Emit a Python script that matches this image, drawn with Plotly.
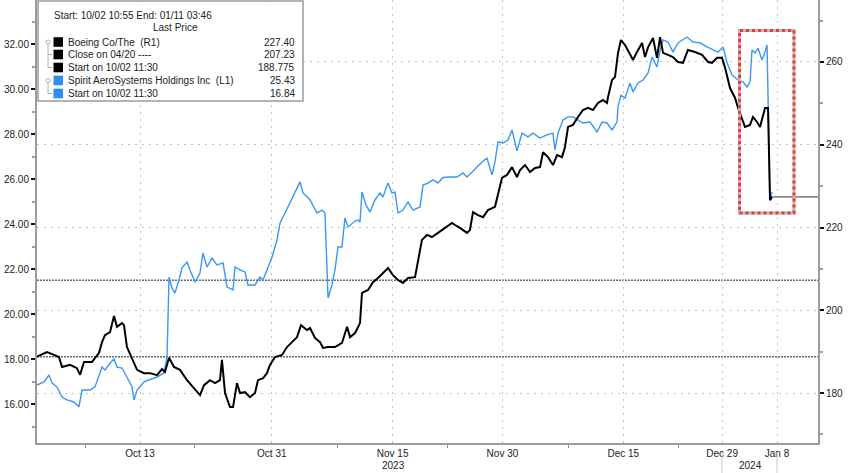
import plotly.graph_objects as go
import pandas as pd

# ---------------- data ----------------
holidays = ["2023-11-23", "2023-12-25", "2024-01-01"]
trading_days = pd.bdate_range("2023-10-02", "2024-01-11", freq="C", holidays=holidays)

tick_dates = ["2023-10-13", "2023-10-31", "2023-11-15", "2023-11-30",
              "2023-12-15", "2023-12-29", "2024-01-08"]
tick_labels = ["Oct 13", "Oct 31", "Nov 15", "Nov 30", "Dec 15", "Dec 29", "Jan 8"]
minor_dates = ["2023-10-06", "2023-10-20", "2023-11-08", "2023-11-22",
               "2023-12-08", "2023-12-22"]
year_labels = ["2023", "2024"]

# x = trading-session position since the start (10/02 10:55)
boeing_session = [0.00, 0.91, 1.55, 2.00, 2.28, 3.00, 3.64, 3.92, 4.28, 5.01, 5.65, 5.92, 6.19, 6.65,
                  7.01, 7.28, 7.74, 7.92, 8.19, 8.65, 9.11, 9.74, 10.29, 10.93, 11.38, 11.65, 12.02,
                  12.47, 13.02, 13.66, 14.29, 14.84, 15.21, 15.75, 16.21, 16.66, 16.84, 17.12, 17.57,
                  17.85, 18.21, 18.48, 18.94, 19.39, 19.85, 20.12, 20.58, 20.94, 21.21, 21.67, 22.31,
                  22.76, 23.22, 23.67, 24.04, 24.58, 24.86, 25.31, 25.77, 26.04, 26.50, 27.13, 27.77,
                  28.23, 28.50, 28.96, 29.41, 29.59, 30.14, 30.59, 31.05, 31.50, 31.96, 32.41, 32.87,
                  33.32, 33.78, 34.42, 34.69, 35.05, 35.51, 35.96, 36.51, 37.15, 37.79, 38.06, 38.51,
                  39.15, 39.42, 39.70, 40.15, 40.61, 41.06, 41.70, 41.97, 42.34, 42.79, 43.25, 43.70,
                  43.98, 44.43, 44.89, 45.34, 45.80, 46.07, 46.53, 46.98, 47.35, 47.80, 48.07, 48.35,
                  48.80, 49.26, 49.71, 50.17, 50.62, 51.08, 51.53, 51.90, 51.99, 52.35, 52.63, 52.90,
                  53.17, 53.54, 53.99, 54.27, 54.63, 55.09, 55.36, 55.64, 56.09, 56.45, 56.73, 57.00,
                  57.45, 57.91, 58.36, 58.82, 59.27, 59.91, 60.55, 61.10, 61.46, 61.92, 62.37, 62.65,
                  63.10, 63.56, 63.83, 64.20, 64.46, 64.92, 65.19, 65.56, 65.83, 66.29, 66.56, 66.74,
                  66.93]
boeing_price = [188.78, 189.9, 189.2, 188.7, 186.3, 186.8, 186.0, 184.4, 187.5, 187.5, 189.7, 192.3,
                194.0, 194.7, 198.6, 196.0, 196.9, 196.4, 191.1, 188.5, 185.6, 184.8, 184.8, 184.3,
                185.8, 185.1, 188.5, 186.3, 185.6, 183.1, 181.2, 179.5, 181.9, 183.1, 182.4, 183.1,
                188.0, 180.0, 176.6, 176.6, 182.4, 180.0, 180.2, 179.0, 180.0, 183.1, 183.6, 184.8,
                186.8, 188.7, 189.2, 191.1, 192.3, 193.5, 196.4, 195.2, 195.7, 193.3, 192.3, 190.9,
                191.1, 191.1, 192.1, 196.0, 193.5, 194.5, 196.9, 204.2, 204.9, 206.8, 207.8, 209.0,
                210.2, 208.5, 207.3, 206.6, 207.8, 208.0, 211.7, 217.0, 218.2, 217.7, 218.7, 219.9,
                221.1, 220.6, 219.9, 218.7, 219.4, 223.7, 223.0, 222.5, 224.2, 225.0, 228.3, 232.0,
                232.7, 234.6, 232.2, 233.9, 235.1, 233.4, 234.4, 234.6, 238.2, 237.0, 235.1, 237.5,
                237.0, 239.4, 244.3, 244.8, 246.7, 248.4, 248.9, 248.4, 250.1, 250.8, 250.1, 251.5,
                255.6, 256.4, 262.2, 265.3, 264.1, 261.7, 260.5, 262.4, 264.6, 261.2, 263.6, 265.8,
                261.0, 266.0, 262.2, 261.7, 261.2, 260.0, 259.8, 262.9, 262.4, 261.7, 260.0, 259.8,
                261.0, 261.0, 258.6, 253.7, 251.3, 248.9, 246.0, 244.3, 244.8, 246.7, 245.5, 244.3,
                248.9, 248.9, 226.6, 227.40]

spirit_session = [0.00, 0.64, 1.09, 1.37, 1.82, 2.28, 2.73, 3.37, 3.82, 4.10, 4.83, 5.28, 5.92, 6.19,
                  6.65, 7.01, 7.28, 7.74, 8.19, 8.65, 8.83, 9.11, 9.74, 10.29, 10.93, 11.56, 11.84,
                  12.02, 12.29, 12.56, 12.93, 13.20, 13.66, 13.93, 14.39, 14.84, 15.11, 15.48, 15.93,
                  16.39, 16.94, 17.30, 17.85, 18.03, 18.48, 18.94, 19.21, 19.85, 20.30, 20.58, 20.94,
                  21.40, 21.85, 22.13, 22.58, 23.04, 23.49, 23.95, 24.22, 24.86, 25.49, 25.95, 26.22,
                  26.40, 26.50, 26.86, 27.13, 27.41, 27.77, 28.04, 28.32, 28.96, 29.23, 29.41, 29.59,
                  29.95, 30.32, 30.77, 31.23, 31.50, 31.96, 32.32, 32.60, 32.87, 33.32, 33.78, 34.23,
                  34.87, 35.15, 35.60, 36.06, 36.51, 36.97, 37.60, 38.24, 38.79, 39.15, 39.61, 40.06,
                  40.52, 40.97, 41.43, 41.70, 41.97, 42.43, 42.89, 43.25, 43.70, 43.98, 44.16, 44.70,
                  45.16, 45.80, 46.44, 46.98, 47.16, 47.44, 47.89, 48.35, 48.80, 49.26, 49.71, 50.35,
                  50.99, 51.44, 51.90, 52.35, 52.81, 52.90, 53.17, 53.54, 53.99, 54.27, 54.72, 55.18,
                  55.64, 56.00, 56.45, 56.73, 57.00, 57.45, 57.91, 58.36, 58.82, 59.18, 59.73, 60.37,
                  61.00, 61.55, 62.01, 62.47, 62.83, 63.29, 63.83, 64.29, 64.65, 64.92, 65.10, 65.38,
                  65.65, 66.01, 66.29, 66.47, 66.74, 66.93]
spirit_price = [16.84, 16.98, 17.29, 16.93, 16.76, 16.31, 16.18, 16.09, 15.87, 16.62, 16.62, 16.76,
                17.64, 17.51, 17.82, 18.00, 17.64, 17.60, 17.20, 16.76, 16.18, 16.62, 16.98, 17.07,
                17.20, 17.38, 18.09, 21.64, 21.16, 20.93, 21.51, 22.05, 22.31, 21.96, 21.42, 21.82,
                22.71, 22.09, 22.49, 22.18, 22.27, 21.20, 21.07, 22.09, 21.96, 21.87, 21.29, 21.29,
                21.64, 21.51, 21.96, 22.53, 23.29, 24.05, 24.49, 24.93, 25.38, 25.87, 25.38, 25.07,
                24.49, 24.62, 24.49, 21.96, 20.71, 21.29, 21.96, 22.98, 22.98, 24.27, 23.87, 24.13,
                24.18, 24.09, 25.42, 24.85, 24.53, 25.07, 25.38, 25.20, 25.82, 25.38, 25.42, 24.49,
                24.62, 24.98, 24.62, 24.76, 25.73, 25.82, 25.96, 25.82, 26.07, 26.09, 26.09, 26.27,
                26.09, 26.31, 26.53, 26.76, 26.93, 26.18, 26.76, 27.65, 27.60, 27.73, 28.18, 27.25,
                27.73, 28.04, 27.87, 28.04, 27.82, 27.96, 28.04, 27.29, 28.04, 28.62, 28.76, 28.76,
                28.62, 28.49, 28.53, 28.09, 28.53, 28.49, 28.18, 28.53, 29.20, 29.73, 29.60, 30.27,
                29.87, 30.27, 30.40, 30.71, 31.42, 30.98, 31.73, 32.18, 32.09, 31.64, 32.05, 32.18,
                32.31, 32.09, 32.05, 31.87, 31.73, 31.64, 31.87, 31.16, 30.62, 30.40, 30.31, 30.09,
                30.31, 31.73, 31.60, 31.82, 31.29, 31.64, 31.96, 25.07, 25.43]

legend_names = ["Boeing Co/The\u00a0\u00a0(R1)", "Close on 04/20 ----", "Start on 10/02 11:30",
                "Spirit AeroSystems Holdings Inc\u00a0\u00a0(L1)", "Start on 10/02 11:30"]
legend_values = ["227.40", "207.23", "188.775", "25.43", "16.84"]
boeing_close_0420 = 207.23
boeing_start = 188.775

# ---------------- layout helpers ----------------
W, H = 848, 473
ML, MR, MT, MB = 37, 30, 0, 30
PW, PH = W - ML - MR, H - MT - MB
PX_PER_SESSION = 10.983
TICK_OFFSET = 0.38
X_MAX = PW / PX_PER_SESSION

day_index = {d.strftime("%Y-%m-%d"): i for i, d in enumerate(trading_days)}
tickvals = [day_index[d] + TICK_OFFSET for d in tick_dates]
minorvals = [day_index[d] + TICK_OFFSET for d in minor_dates]


def px2x(px):
    return (px - ML) / PW


def px2y(py):
    return 1 - (py - MT) / PH


BLACK = "#000000"
BLUE = "#3a97f3"
FONT = "Liberation Sans"
TXT = "#222222"
GRID = "#c4c4c4"
AXIS = "#9c9c9c"

fig = go.Figure()
fig.add_trace(go.Scatter(x=spirit_session, y=spirit_price, mode="lines", yaxis="y",
                         line=dict(color=BLUE, width=1.4), name="Spirit", showlegend=False,
                         hoverinfo="skip"))
fig.add_trace(go.Scatter(x=boeing_session, y=boeing_price, mode="lines", yaxis="y2",
                         line=dict(color=BLACK, width=2), name="Boeing", showlegend=False,
                         hoverinfo="skip"))

shapes = []
for v in (boeing_close_0420, boeing_start):
    shapes.append(dict(type="line", xref="paper", yref="y2", x0=0, x1=1, y0=v, y1=v,
                       line=dict(color="#6a6a6a", width=1.5, dash="2px,1px"), layer="below"))
shapes.append(dict(type="line", xref="x", yref="y2", x0=boeing_session[-1], x1=X_MAX,
                   y0=boeing_price[-1], y1=boeing_price[-1],
                   line=dict(color="#8a8a8a", width=1.6)))
for col, dash in (("#b8b8b8", "solid"), ("#ef3b36", "3px,3px")):
    shapes.append(dict(type="rect", xref="paper", yref="paper",
                       x0=px2x(739.5), x1=px2x(794), y0=px2y(213), y1=px2y(30.5),
                       line=dict(color=col, width=3, dash=dash), layer="above"))
for px in (722, 777):
    shapes.append(dict(type="line", xref="paper", yref="paper", x0=px2x(px), x1=px2x(px),
                       y0=px2y(452), y1=px2y(473), line=dict(color="#c8c8c8", width=1)))

shapes.append(dict(type="rect", xref="paper", yref="paper", x0=px2x(38), x1=px2x(303),
                   y0=px2y(101), y1=px2y(1), fillcolor="white",
                   line=dict(color="#9a9a9a", width=1.5), layer="above"))
row_y = [42, 54.5, 67.5, 80.5, 93.5]
row_col = [BLACK, BLACK, BLACK, "#2f8cf0", "#2f8cf0"]
for ry, c in zip(row_y, row_col):
    shapes.append(dict(type="rect", xref="paper", yref="paper", x0=px2x(53.5), x1=px2x(63),
                       y0=px2y(ry + 4.8), y1=px2y(ry - 4.8), fillcolor=c,
                       line=dict(width=0), layer="above"))
for top, bottom in ((0, 2), (3, 4)):
    shapes.append(dict(type="circle", xref="paper", yref="paper", x0=px2x(46), x1=px2x(50),
                       y0=px2y(row_y[top] + 2), y1=px2y(row_y[top] - 2),
                       line=dict(color="#b0b0b0", width=1), layer="above"))
    shapes.append(dict(type="line", xref="paper", yref="paper", x0=px2x(48), x1=px2x(48),
                       y0=px2y(row_y[top] + 2), y1=px2y(row_y[bottom]),
                       line=dict(color="#b0b0b0", width=1), layer="above"))
    for r in range(top + 1, bottom + 1):
        shapes.append(dict(type="line", xref="paper", yref="paper", x0=px2x(48), x1=px2x(52),
                           y0=px2y(row_y[r]), y1=px2y(row_y[r]),
                           line=dict(color="#b0b0b0", width=1), layer="above"))

annotations = []
annotations.append(dict(text="Start: 10/02 10:55 End: 01/11 03:46", xref="paper", yref="paper",
                        x=px2x(52), y=px2y(15), xanchor="left", yanchor="middle",
                        showarrow=False, font=dict(family=FONT, size=10, color=TXT)))
annotations.append(dict(text="Last Price", xref="paper", yref="paper",
                        x=px2x(175), y=px2y(27.5), xanchor="center", yanchor="middle",
                        showarrow=False, font=dict(family=FONT, size=10, color=TXT)))
for ry, name, val in zip(row_y, legend_names, legend_values):
    annotations.append(dict(text=name, xref="paper", yref="paper", x=px2x(65.5), y=px2y(ry),
                            xanchor="left", yanchor="middle", showarrow=False,
                            font=dict(family=FONT, size=10, color=TXT)))
    annotations.append(dict(text=val, xref="paper", yref="paper", x=px2x(297), y=px2y(ry),
                            xanchor="right", yanchor="middle", showarrow=False,
                            font=dict(family=FONT, size=10, color=TXT)))
for lab, px in zip(year_labels, (393, 750)):
    annotations.append(dict(text=lab, xref="paper", yref="paper", x=px2x(px), y=px2y(466),
                            xanchor="center", yanchor="middle", showarrow=False,
                            font=dict(family=FONT, size=10, color=TXT)))

fig.update_layout(
    width=W, height=H,
    margin=dict(l=ML, r=MR, t=MT, b=MB, pad=0, autoexpand=False),
    paper_bgcolor="white", plot_bgcolor="white",
    showlegend=False,
    font=dict(family=FONT, size=10, color=TXT),
    xaxis=dict(range=[0, X_MAX], tickmode="array", tickvals=tickvals, ticktext=tick_labels,
               ticks="", showgrid=True, gridcolor=GRID, griddash="2px,5px", gridwidth=1,
               showline=True, linecolor=AXIS, linewidth=2, zeroline=False, automargin=False,
               tickfont=dict(family=FONT, size=10, color=TXT),
               minor=dict(tickmode="array", tickvals=minorvals, ticks="outside", ticklen=3,
                          tickcolor="#8c8c8c", tickwidth=1, showgrid=False)),
    yaxis=dict(range=[14.267, 33.956], tickmode="array",
               tickvals=[16, 18, 20, 22, 24, 26, 28, 30, 32], tickformat=".2f",
               ticks="outside", ticklen=4, tickwidth=2, tickcolor="#111", automargin=False,
               showgrid=False, zeroline=False, showline=True, linecolor=AXIS, linewidth=2,
               tickfont=dict(family=FONT, size=10, color=TXT),
               minor=dict(tickmode="array", tickvals=[15, 17, 19, 21, 23, 25, 27, 29, 31, 33],
                          ticks="outside", ticklen=3, tickcolor="#a0a0a0", showgrid=False)),
    yaxis2=dict(range=[167.92, 274.98], overlaying="y", side="right", tickmode="array",
                tickvals=[180, 200, 220, 240, 260], ticks="outside", ticklen=4, tickwidth=2,
                tickcolor="#111", showgrid=True, gridcolor=GRID, griddash="2px,5px",
                zeroline=False, showline=True, linecolor=AXIS, linewidth=2, automargin=False,
                tickfont=dict(family=FONT, size=10, color=TXT),
                minor=dict(tickmode="array", tickvals=[170, 190, 210, 230, 250, 270],
                           ticks="outside", ticklen=3, tickcolor="#a0a0a0", showgrid=False)),
    shapes=shapes,
    annotations=annotations,
)

fig.write_html("out.html", config={"displayModeBar": False},
               post_script="document.body.style.margin='0';document.body.style.overflow='hidden';")
